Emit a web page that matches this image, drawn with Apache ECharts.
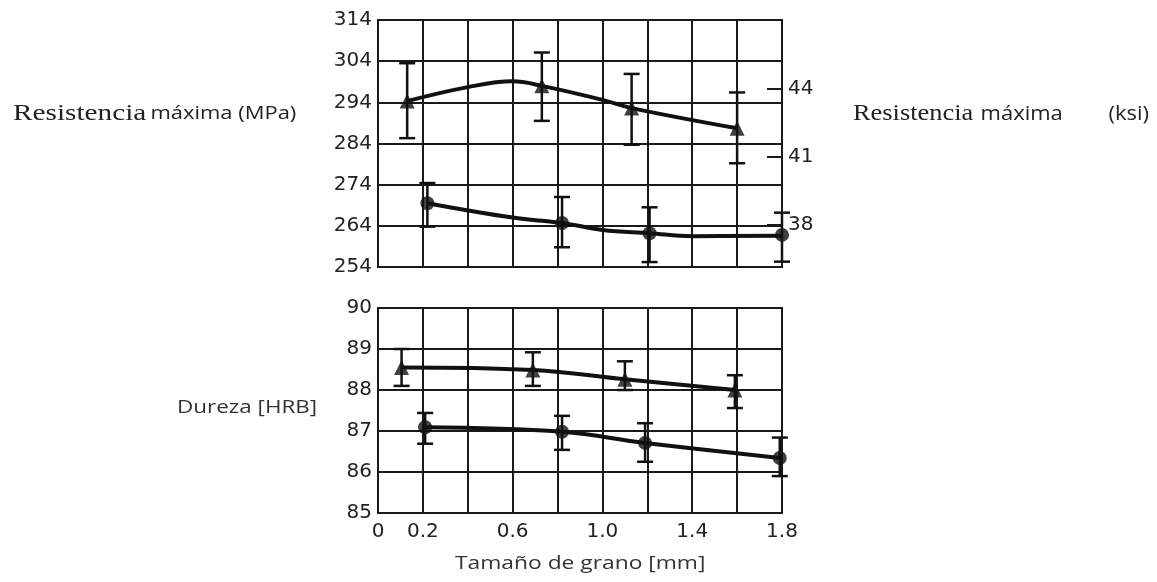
<!DOCTYPE html>
<html>
<head>
<meta charset="utf-8">
<script src="https://cdn.jsdelivr.net/npm/echarts@6/dist/echarts.min.js"></script>
<style>
  html, body { margin: 0; padding: 0; background: #fff; }
  #chart { width: 1157px; height: 582px; }
</style>
</head>
<body>
<div id="chart"></div>
<script>
// etiquetas del eje x (tamaño de grano, mm)
var xTickLabels = [0, 0.2, 0.6, 1.0, 1.4, 1.8];
var ksiTicks = [38, 41, 44];

// resistencia máxima, curva superior (triángulos)
var granoResA = [0.13, 0.73, 1.13, 1.60];
var resA = [294.3, 298.0, 292.6, 287.7];
var resA_lo = [285.3, 289.5, 283.7, 279.2];
var resA_hi = [303.5, 306.1, 300.9, 296.4];
var curvaResA_x = [0.13, 0.4, 0.6, 0.73, 1.0, 1.13, 1.6];
var curvaResA_y = [294.3, 297.7, 299.1, 298.0, 294.6, 292.6, 287.7];

// resistencia máxima, curva inferior (círculos)
var granoResB = [0.22, 0.82, 1.21, 1.80];
var resB = [269.5, 264.7, 262.2, 261.8];
var resB_lo = [263.8, 258.8, 255.2, 255.3];
var resB_hi = [274.4, 271.0, 268.5, 267.2];
var curvaResB_x = [0.22, 0.6, 0.82, 1.0, 1.21, 1.4, 1.8];
var curvaResB_y = [269.5, 266.0, 264.7, 263.0, 262.2, 261.5, 261.6];

// dureza, curva superior (triángulos)
var granoDurA = [0.105, 0.69, 1.10, 1.59];
var durA = [88.55, 88.49, 88.26, 88.0];
var durA_lo = [88.1, 88.1, 88.0, 87.56];
var durA_hi = [89.0, 88.92, 88.7, 88.36];

// dureza, curva inferior (círculos)
var granoDurB = [0.21, 0.82, 1.19, 1.79];
var durB = [87.09, 86.98, 86.71, 86.34];
var durB_lo = [86.69, 86.54, 86.25, 85.9];
var durB_hi = [87.44, 87.37, 87.19, 86.84];

function pares(xs, ys) {
    var out = [];
    for (var i = 0; i < xs.length; i++) out.push([xs[i], ys[i]]);
    return out;
}
function barras(xs, lo, hi) {
    var out = [];
    for (var i = 0; i < xs.length; i++) out.push([xs[i], lo[i], hi[i]]);
    return out;
}

var negro = '#111';
var numFont = { fontFamily: 'DejaVu Sans', fontSize: 20, color: '#222' };

function errorBar(params, api) {
    var x = api.value(0);
    var p1 = api.coord([x, api.value(1)]);
    var p2 = api.coord([x, api.value(2)]);
    var w = 8;
    var st = { stroke: negro, lineWidth: 2.5 };
    return {
        type: 'group',
        children: [
            { type: 'line', shape: { x1: p1[0], y1: p1[1], x2: p2[0], y2: p2[1] }, style: st },
            { type: 'line', shape: { x1: p1[0] - w, y1: p1[1], x2: p1[0] + w, y2: p1[1] }, style: st },
            { type: 'line', shape: { x1: p2[0] - w, y1: p2[1], x2: p2[0] + w, y2: p2[1] }, style: st }
        ]
    };
}

function lineaCurva(xi, yi, xs, ys) {
    return {
        type: 'line', xAxisIndex: xi, yAxisIndex: yi,
        data: pares(xs, ys), smooth: 0.4, showSymbol: false,
        lineStyle: { color: negro, width: 4 }, z: 3
    };
}
function puntos(xi, yi, xs, ys, sym) {
    return {
        type: 'scatter', xAxisIndex: xi, yAxisIndex: yi,
        data: pares(xs, ys), symbol: sym, symbolSize: sym === 'triangle' ? 15 : 14,
        itemStyle: { color: negro }, z: 5
    };
}
function errores(xi, yi, xs, lo, hi) {
    return {
        type: 'custom', xAxisIndex: xi, yAxisIndex: yi,
        data: barras(xs, lo, hi), renderItem: errorBar, z: 4
    };
}

// texto escalado a lo ancho (la figura original está estirada)
function rotulo(x, y, sx, txt, rich) {
    var st = { text: txt, x: 0, y: 0, align: 'left', verticalAlign: 'middle' };
    if (rich) st.rich = rich;
    else { st.fontFamily = 'Open Sans'; st.fontSize = 19; st.fill = '#333'; }
    return { type: 'text', x: x, y: y, scaleX: sx, style: st };
}
var richResL = {
    a: { fontFamily: 'Liberation Serif', fontSize: 24, fill: '#222' },
    b: { fontFamily: 'Open Sans', fontSize: 18, fill: '#222' }
};
var richResR = {
    a: { fontFamily: 'Liberation Serif', fontSize: 24, fill: '#222' },
    b: { fontFamily: 'Open Sans', fontSize: 20, fill: '#222' }
};

var gridLine = { show: true, lineStyle: { color: '#1a1a1a', width: 2 } };

var myChart = echarts.init(document.getElementById('chart'));
var option = {
    backgroundColor: '#fff',
    animation: false,
    grid: [
        { left: 378, top: 20, width: 404, height: 247, show: true, borderColor: '#1a1a1a', borderWidth: 2 },
        { left: 378, top: 308, width: 404, height: 205, show: true, borderColor: '#1a1a1a', borderWidth: 2 }
    ],
    xAxis: [
        {
            gridIndex: 0, type: 'value', min: 0, max: 1.8, interval: 0.2,
            axisLine: { show: false }, axisTick: { show: false }, axisLabel: { show: false },
            splitLine: gridLine
        },
        {
            gridIndex: 1, type: 'value', min: 0, max: 1.8, interval: 0.2,
            axisLine: { show: false }, axisTick: { show: false },
            axisLabel: Object.assign({
                customValues: xTickLabels, margin: 9,
                formatter: function (v) { return v === 0 ? '0' : v.toFixed(1); }
            }, numFont),
            splitLine: gridLine
        }
    ],
    yAxis: [
        {
            gridIndex: 0, type: 'value', min: 254, max: 314, interval: 10,
            axisLine: { show: false }, axisTick: { show: false },
            axisLabel: Object.assign({ margin: 6 }, numFont),
            splitLine: gridLine
        },
        {
            gridIndex: 0, type: 'value', position: 'right', min: 36.15, max: 47.05,
            axisLine: { show: false },
            axisTick: { show: true, inside: true, length: 15, customValues: ksiTicks, lineStyle: { color: '#1a1a1a', width: 2 } },
            axisLabel: Object.assign({ customValues: ksiTicks, margin: 6 }, numFont),
            splitLine: { show: false }
        },
        {
            gridIndex: 1, type: 'value', min: 85, max: 90, interval: 1,
            axisLine: { show: false }, axisTick: { show: false },
            axisLabel: Object.assign({ margin: 6 }, numFont),
            splitLine: gridLine
        }
    ],
    graphic: [
        rotulo(13, 114, 1.22, '{a|Resistencia} {b|máxima (MPa)}', richResL),
        rotulo(853, 114, 1.1, '{a|Resistencia}  {b|máxima        (ksi)}', richResR),
        rotulo(177, 408, 1.18, 'Dureza [HRB]'),
        rotulo(455, 564, 1.2, 'Tamaño de grano [mm]')
    ],
    series: [
        lineaCurva(0, 0, curvaResA_x, curvaResA_y),
        lineaCurva(0, 0, curvaResB_x, curvaResB_y),
        errores(0, 0, granoResA, resA_lo, resA_hi),
        errores(0, 0, granoResB, resB_lo, resB_hi),
        puntos(0, 0, granoResA, resA, 'triangle'),
        puntos(0, 0, granoResB, resB, 'circle'),

        lineaCurva(1, 2, granoDurA, durA),
        lineaCurva(1, 2, granoDurB, durB),
        errores(1, 2, granoDurA, durA_lo, durA_hi),
        errores(1, 2, granoDurB, durB_lo, durB_hi),
        puntos(1, 2, granoDurA, durA, 'triangle'),
        puntos(1, 2, granoDurB, durB, 'circle')
    ]
};
myChart.setOption(option);
</script>
</body>
</html>
